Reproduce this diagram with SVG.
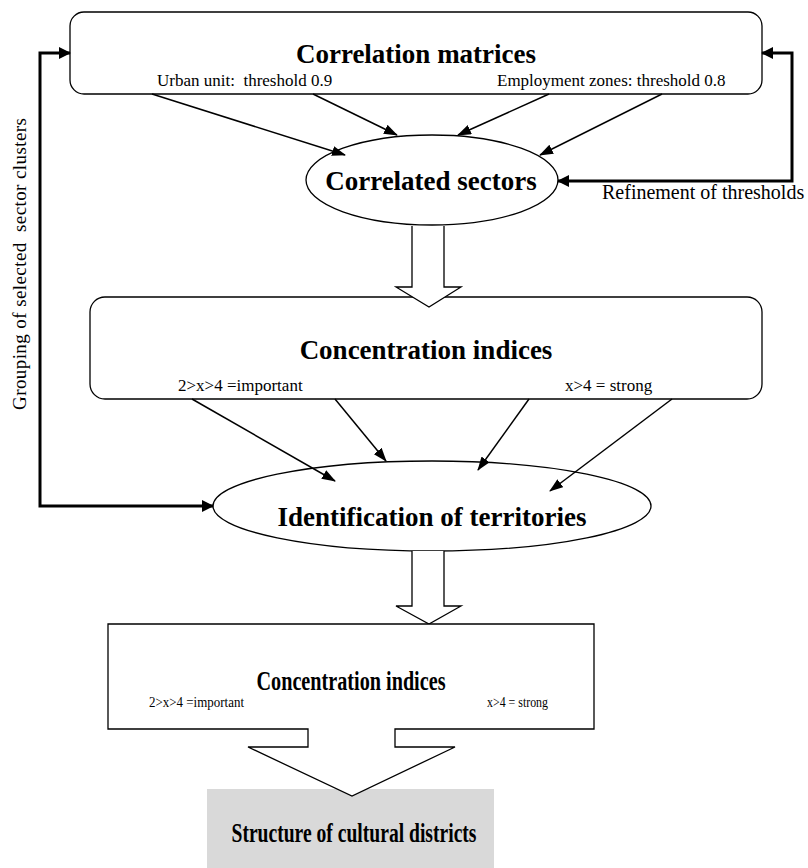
<svg xmlns="http://www.w3.org/2000/svg" width="808" height="868" viewBox="0 0 808 868">
  <style>
    .box { fill: #ffffff; stroke: #000000; stroke-width: 1.3; }
    .t { font-family: "Liberation Serif", "Times New Roman", serif; fill: #000000; white-space: pre; }
    .title { font-weight: bold; font-size: 27px; text-anchor: middle; }
    .small { font-size: 17px; }
    .thin { fill: none; stroke: #000000; stroke-width: 1.5; marker-end: url(#ah); }
    .thick { fill: none; stroke: #000000; stroke-width: 3; marker-start: url(#ahb); marker-end: url(#ahb); }
    .block { fill: #ffffff; stroke: #000000; stroke-width: 1.3; stroke-linejoin: miter; }
  </style>
  <defs>
    <marker id="ah" markerUnits="userSpaceOnUse" markerWidth="14" markerHeight="10" refX="13" refY="5" orient="auto">
      <path d="M0,0 L14,5 L0,10 z" fill="#000000"/>
    </marker>
    <marker id="ahb" markerUnits="userSpaceOnUse" markerWidth="12" markerHeight="12" refX="11" refY="6" orient="auto-start-reverse">
      <path d="M0,0 L12,6 L0,12 z" fill="#000000"/>
    </marker>
  </defs>

  <g id="correlation-matrices">
    <rect class="box" x="70" y="12" width="692" height="82" rx="14" ry="14"/>
    <text class="t title" x="416" y="63">Correlation matrices</text>
    <text class="t small" x="157" y="86">Urban unit:  threshold 0.9</text>
    <text class="t small" x="497" y="86">Employment zones: threshold 0.8</text>
  </g>

  <g id="correlated-sectors">
    <ellipse class="box" cx="432" cy="180" rx="126" ry="45"/>
    <text class="t title" x="431" y="190">Correlated sectors</text>
  </g>

  <g id="concentration-indices-1">
    <rect class="box" x="90" y="297" width="672" height="102" rx="15" ry="15"/>
    <text class="t title" x="426" y="359">Concentration indices</text>
    <text class="t small" x="178" y="391">2&gt;x&gt;4 =important</text>
    <text class="t small" x="565" y="391">x&gt;4 = strong</text>
  </g>

  <g id="arrow-1">
    <path class="block" d="M412,226 V287 H396 L429,307 L461,287 H444 V226"/>
  </g>

  <g id="identification">
    <ellipse class="box" cx="432" cy="506" rx="219" ry="45"/>
    <text class="t title" x="432" y="526">Identification of territories</text>
  </g>

  <g id="arrow-2">
    <path class="block" d="M412,551 V606 H396 L429,624 L461,606 H444 V551"/>
  </g>

  <g id="structure">
    <rect x="207" y="789" width="287" height="79" fill="#d9d9d9"/>
    <text class="t" x="354" y="842" font-size="28" font-weight="bold" text-anchor="middle" textLength="245" lengthAdjust="spacingAndGlyphs">Structure of cultural districts</text>
  </g>

  <g id="concentration-indices-2">
    <path class="block" d="M108,624 H594 V729 H395 V747 H455 L352,796 L248,747 H308 V729 H108 Z"/>
    <text class="t" x="351" y="690" font-size="28" font-weight="bold" text-anchor="middle" textLength="189" lengthAdjust="spacingAndGlyphs">Concentration indices</text>
    <text class="t" x="149" y="707" font-size="14" textLength="95" lengthAdjust="spacingAndGlyphs">2&gt;x&gt;4 =important</text>
    <text class="t" x="487" y="707" font-size="14" textLength="61" lengthAdjust="spacingAndGlyphs">x&gt;4 = strong</text>
  </g>

  <g id="connectors">
    <line class="thin" x1="152" y1="94" x2="345" y2="155"/>
    <line class="thin" x1="313" y1="94" x2="397" y2="135"/>
    <line class="thin" x1="549" y1="94" x2="458" y2="135"/>
    <line class="thin" x1="662" y1="94" x2="540" y2="155"/>
    <line class="thin" x1="192" y1="399" x2="335" y2="481"/>
    <line class="thin" x1="335" y1="399" x2="386" y2="461"/>
    <line class="thin" x1="529" y1="399" x2="478" y2="470"/>
    <line class="thin" x1="672" y1="399" x2="550" y2="491"/>
    <path class="thick" d="M213,506 H40 V53 H70"/>
    <path class="thick" d="M558,181 H792 V53 H762"/>
    <text class="t" font-size="19" transform="translate(26,264) rotate(-90)" text-anchor="middle" textLength="292" lengthAdjust="spacing">Grouping of selected  sector clusters</text>
    <text class="t" x="602" y="199" font-size="20">Refinement of thresholds</text>
  </g>
</svg>
